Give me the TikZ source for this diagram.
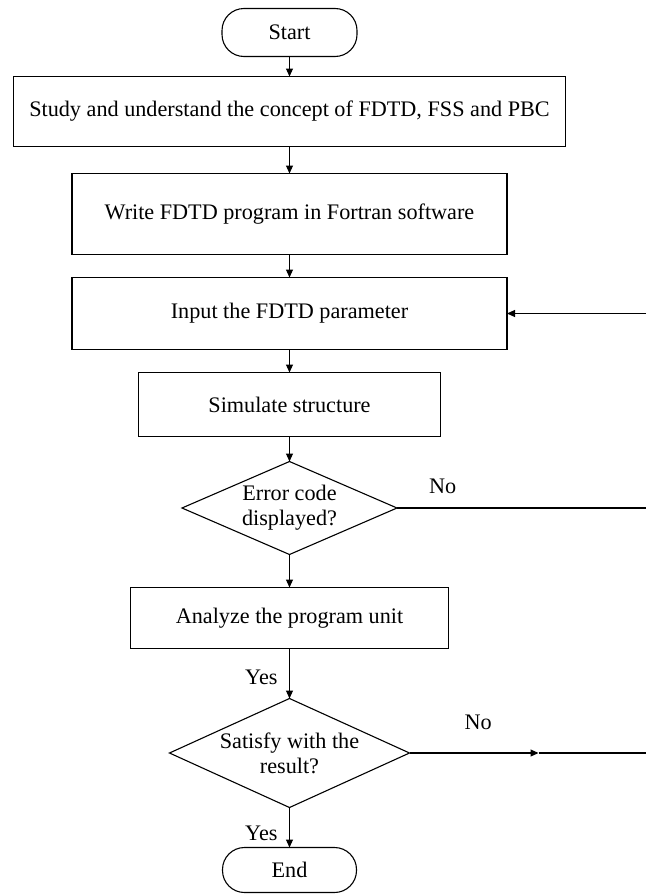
\documentclass[tikz,border=0pt]{standalone}
\usepackage{fontspec}
\setmainfont{Liberation Serif}
\usetikzlibrary{calc,positioning,arrows.meta,shapes.geometric}

\begin{document}
\begin{tikzpicture}[
  x=1pt,y=1pt,
  every node/.style={font=\fontsize{22.2}{25}\selectfont,outer sep=0pt},
  terminal/.style={draw,rectangle,rounded corners=22pt,minimum width=135pt,minimum height=48pt,inner sep=0pt},
  process/.style={draw,rectangle,inner sep=0pt},
  decision/.style={draw,diamond,shape aspect=2.2,align=center,inner sep=0pt},
  lbl/.style={inner sep=0pt},
  every edge/.style={draw,line width=1.1pt,-{Triangle[length=8pt,width=7pt]}},
  line width=1.1pt,
]
  \useasboundingbox (0,0) rectangle (646,-894);

  % Main column
  \node[terminal] (start) at (289.5,-32.5) {Start};
  \node[process,minimum width=552pt,minimum height=70pt,below=20pt of start] (study) {Study and understand the concept of FDTD, FSS and PBC};
  \node[process,minimum width=435pt,minimum height=81pt,below=27pt of study] (write) {Write FDTD program in Fortran software};
  \node[process,minimum width=435pt,minimum height=72pt,below=23pt of write] (input) {Input the FDTD parameter};
  \node[process,minimum width=302pt,minimum height=64pt,below=23pt of input] (simulate) {Simulate structure};

  % Decisions
  \node[decision,minimum width=215pt,minimum height=93pt,below=25pt of simulate] (error) {Error code\\displayed?};
  \node[process,minimum width=318pt,minimum height=61pt,below=33pt of error] (analyze) {Analyze the program unit};
  \node[decision,minimum width=240pt,minimum height=109pt,below=50pt of analyze] (satisfy) {Satisfy with the\\result?};
  \node[terminal,minimum width=134pt,minimum height=45pt,below=40pt of satisfy] (end) {End};

  % Right side ends
  \coordinate (rim) at (646,0);
  \coordinate (back) at (input.east -| rim);
  \coordinate (errno) at (error.east -| rim);
  \coordinate (satmid) at ($(satisfy.east)+(129,0)$);
  \coordinate (satno) at (satisfy.east -| rim);

  % Labels
  \node[lbl,above right=14pt and 32pt of error.east] (no1) {No};
  \node[lbl,below left=21pt and 12pt of analyze.south] (yes1) {Yes};
  \node[lbl,above right=23pt and 55pt of satisfy.east] (no2) {No};
  \node[lbl,above left=7pt and 12pt of end.north] (yes2) {Yes};

  % Edges: main flow
  \path (start) edge (study);
  \path (study) edge (write);
  \path (write) edge (input);
  \path (input) edge (simulate);
  \path (simulate) edge (error);
  \path (error) edge (analyze);
  \path (analyze) edge (satisfy);
  \path (satisfy) edge (end);

  % Edges: loops
  \path (back) edge (input.east);
  \draw (error.east) -- (errno);
  \path (satisfy.east) edge (satmid);
  \draw (satmid) -- (satno);
\end{tikzpicture}
\end{document}
